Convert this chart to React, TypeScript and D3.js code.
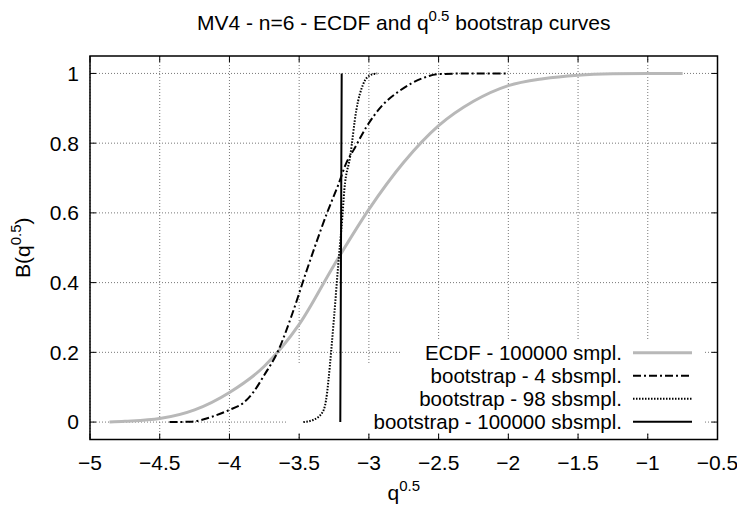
import React from "react";
import * as d3 from "d3";

const W = 737;
const H = 509;

const xTicks = [-5, -4.5, -4, -3.5, -3, -2.5, -2, -1.5, -1, -0.5];
const yTicks = [0, 0.2, 0.4, 0.6, 0.8, 1];

const ecdfX = [-4.86, -4.75, -4.5, -4.25, -4.0, -3.75, -3.5, -3.25, -3.0, -2.75, -2.5, -2.25, -2.0, -1.75, -1.5, -1.25, -1.0, -0.75];
const ecdfY = [0, 0.002, 0.01, 0.035, 0.085, 0.16, 0.28, 0.45, 0.61, 0.745, 0.85, 0.92, 0.965, 0.985, 0.995, 0.999, 1, 1];

const bs4X = [-4.43, -4.28, -4.12, -4.0, -3.9, -3.83, -3.75, -3.65, -3.55, -3.45, -3.39, -3.3, -3.22, -3.16, -3.11, -3.02, -2.9, -2.78, -2.61, -2.5, -2.25, -2.0];
const bs4Y = [0, 0.001, 0.016, 0.035, 0.055, 0.085, 0.135, 0.205, 0.31, 0.43, 0.5, 0.6, 0.68, 0.745, 0.78, 0.845, 0.91, 0.95, 0.987, 0.998, 1, 1];

const bs98X = [-3.47, -3.4, -3.33, -3.3, -3.29, -3.25, -3.22, -3.19, -3.176, -3.135, -3.09, -3.04, -2.99, -2.94];
const bs98Y = [0, 0.006, 0.03, 0.083, 0.12, 0.3, 0.45, 0.59, 0.666, 0.76, 0.895, 0.97, 0.995, 1];

const bsAllX = [-3.205, -3.2, -3.195];
const bsAllY = [0, 0.5, 1];

const legendLabels = [
  "ECDF - 100000 smpl.",
  "bootstrap - 4 sbsmpl.",
  "bootstrap - 98 sbsmpl.",
  "bootstrap - 100000 sbsmpl.",
];

const FONT = "'Liberation Sans', Arial, sans-serif";

export default function App() {
  const left = 90, right = 717.5, top = 56, bottom = 439.5;
  const x = d3.scaleLinear().domain([-5, -0.5]).range([left, right]);
  const y = d3.scaleLinear().domain([-0.05, 1.05]).range([bottom, top]);

  const mk = (xs: number[], ys: number[]) => xs.map((v, i) => [v, ys[i]] as [number, number]);
  const line = d3
    .line<[number, number]>()
    .x((d) => x(d[0]))
    .y((d) => y(d[1]))
    .curve(d3.curveMonotoneX);

  const series = [
    { data: mk(ecdfX, ecdfY), stroke: "#b8b8b8", width: 3, dash: undefined as string | undefined },
    { data: mk(bs4X, bs4Y), stroke: "#000", width: 2, dash: "8 3 2 3" },
    { data: mk(bs98X, bs98Y), stroke: "#000", width: 2, dash: "1.5 1.5" },
    { data: mk(bsAllX, bsAllY), stroke: "#000", width: 2, dash: undefined },
  ];

  const gridStroke = "#777";
  const gridDash = "1 2";
  const fs = 21;
  const lfs = 20.5;

  const legendRight = 622;
  const sampleX0 = 633;
  const sampleX1 = 692;
  const rowStep = 23;
  const rowY0 = 421.7 - 3 * rowStep;

  return (
    <svg
      width={W}
      height={H}
      style={{ position: "absolute", left: 0, top: 0, background: "#fff" }}
      fontFamily={FONT}
    >
      <rect x={0} y={0} width={W} height={H} fill="#fff" />
      {xTicks.map((t) => (
        <line key={"gx" + t} x1={x(t)} x2={x(t)} y1={top} y2={bottom} stroke={gridStroke} strokeWidth={1} strokeDasharray={gridDash} />
      ))}
      {yTicks.map((t) => (
        <line key={"gy" + t} x1={left} x2={right} y1={y(t)} y2={y(t)} stroke={gridStroke} strokeWidth={1} strokeDasharray={gridDash} />
      ))}
      <rect x={400} y={341} width={703 - 400} height={24} fill="#fff" />
      <rect x={287} y={364} width={703 - 287} height={432 - 364} fill="#fff" />
      {series.map((s, i) => (
        <path key={"s" + i} d={line(s.data) || ""} fill="none" stroke={s.stroke} strokeWidth={s.width} strokeDasharray={s.dash} />
      ))}
      {xTicks.map((t) => (
        <g key={"tx" + t}>
          <line x1={x(t)} x2={x(t)} y1={bottom} y2={bottom - 6} stroke="#000" strokeWidth={1} />
          <line x1={x(t)} x2={x(t)} y1={top} y2={top + 6} stroke="#000" strokeWidth={1} />
          <text x={x(t)} y={470} textAnchor="middle" fontSize={fs} fill="#000">
            {d3.format("")(t)}
          </text>
        </g>
      ))}
      {yTicks.map((t) => (
        <g key={"ty" + t}>
          <line x1={left} x2={left + 6} y1={y(t)} y2={y(t)} stroke="#000" strokeWidth={1} />
          <line x1={right} x2={right - 6} y1={y(t)} y2={y(t)} stroke="#000" strokeWidth={1} />
          <text x={79} y={y(t)} dy="0.35em" textAnchor="end" fontSize={fs} fill="#000">
            {d3.format("")(t)}
          </text>
        </g>
      ))}
      <rect x={left} y={top} width={right - left} height={bottom - top} fill="none" stroke="#000" strokeWidth={1.5} />
      {legendLabels.map((lab, i) => {
        const yy = rowY0 + i * rowStep;
        const s = series[i];
        return (
          <g key={"lg" + i}>
            <text x={legendRight} y={yy} dy="0.35em" textAnchor="end" fontSize={lfs} fill="#000">
              {lab}
            </text>
            <line x1={sampleX0} x2={sampleX1} y1={yy} y2={yy} stroke={s.stroke} strokeWidth={s.width} strokeDasharray={s.dash} />
          </g>
        );
      })}
      <text x={403.75} y={30} textAnchor="middle" fontSize={fs} fill="#000">
        MV4 - n=6 - ECDF and q<tspan dy={-9} fontSize={15}>0.5</tspan>
        <tspan dy={9}> bootstrap curves</tspan>
      </text>
      <text x={403.75} y={500} textAnchor="middle" fontSize={fs} fill="#000">
        q<tspan dy={-9} fontSize={15}>0.5</tspan>
      </text>
      <text transform={`translate(30,${(top + bottom) / 2}) rotate(-90)`} textAnchor="middle" fontSize={fs} fill="#000">
        B(q<tspan dy={-9} fontSize={15}>0.5</tspan>
        <tspan dy={9}>)</tspan>
      </text>
    </svg>
  );
}
